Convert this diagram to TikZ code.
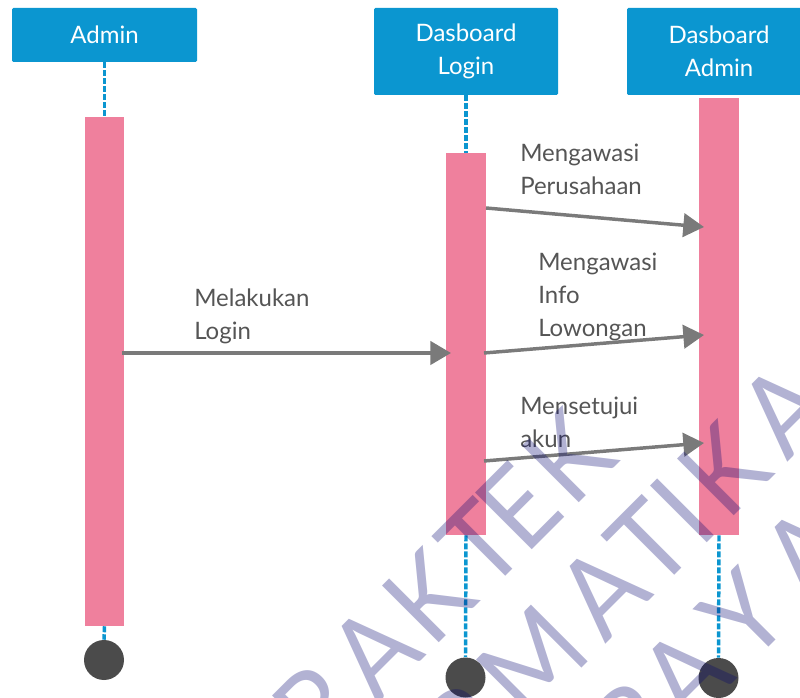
\documentclass[tikz,border=0pt]{standalone}
\usepackage{fontspec}
\usepackage{graphicx}
\setmainfont{Lato}
\usetikzlibrary{arrows.meta}
\definecolor{boxblue}{HTML}{0B96D0}
\definecolor{barpink}{HTML}{EF809D}
\definecolor{arrowgrey}{HTML}{7A7A7A}
\definecolor{labelgrey}{HTML}{555555}
\definecolor{enddark}{HTML}{4B4B4B}
\definecolor{wmnavy}{HTML}{00006E}
\newdimen\wmpx \wmpx=.75pt
\newcommand{\wml}[2]{\makebox[#1\wmpx][l]{\scalebox{.93}[1]{#2}}}
\tikzset{
  actorbox/.style={fill=boxblue,text=white,rounded corners=1pt,inner sep=0pt,align=center,font=\fontsize{18}{24.75}\selectfont},
  lifebar/.style={fill=barpink,minimum width=29.5pt,inner sep=0pt},
  lifedash/.style={draw=boxblue,line width=2.6pt,dash pattern=on 4.5pt off 1.5pt},
  endcircle/.style={circle,fill=enddark,minimum size=30pt,inner sep=0pt},
  message/.style={draw=arrowgrey,line width=2.6pt,-{Triangle[length=15.5pt,width=17.5pt]}},
  msglabel/.style={anchor=north west,text=labelgrey,inner sep=0pt,align=left,font=\fontsize{18}{24.75}\selectfont},
  watermark/.style={rotate=45,anchor=base west,text=wmnavy,text opacity=.3,inner sep=0pt,font=\fontsize{84}{84}\selectfont}
}
\begin{document}
\begin{tikzpicture}[x=0.75pt,y=-0.75pt]
\useasboundingbox (0,0) rectangle (800,698);
\clip (0,0) rectangle (800,698);
\node[actorbox,minimum width=138.75pt,minimum height=40.5pt] (admin) at (104.5,35) {\raisebox{-1pt}{Admin}};
\node[actorbox,minimum width=138pt,minimum height=65.25pt] (login) at (466,51.5) {Dasboard\\Login};
\node[actorbox,minimum width=138pt,minimum height=65.25pt] (dash) at (719,51.5) {Dasboard\\Admin};
\node[lifebar,minimum height=381.75pt] (baradmin) at (104.5,371.5) {};
\node[lifebar,minimum height=286.5pt] (barlogin) at (466,344) {};
\node[lifebar,minimum height=327.75pt] (bardash) at (719,316.5) {};
\node[endcircle] (endadmin) at (104,660) {};
\node[endcircle] (endlogin) at (465.5,677.5) {};
\node[endcircle] (enddash) at (718.5,678) {};
\draw[lifedash] (admin.south -| baradmin.north) -- (baradmin.north);
\draw[lifedash] (baradmin.south) -- (endadmin.north);
\draw[lifedash] (login.south -| barlogin.north) -- (barlogin.north);
\draw[lifedash] (barlogin.south) -- (endlogin.north);
\draw[lifedash] (bardash.south) -- (enddash.north);
\coordinate (m1a) at (122,353); \coordinate (m1b) at (451,353);
\coordinate (m2a) at (486,208); \coordinate (m2b) at (704,227);
\coordinate (m3a) at (484,353); \coordinate (m3b) at (704,335);
\coordinate (m4a) at (484,461); \coordinate (m4b) at (704,443);
\draw[message] (m1a) -- (m1b);
\draw[message] (m2a) -- (m2b);
\draw[message] (m3a) -- (m3b);
\draw[message] (m4a) -- (m4b);
\node[msglabel] (l1) at (194,289) {Melakukan\\Login};
\node[msglabel] (l2) at (520,144) {Mengawasi\\Perusahaan};
\node[msglabel] (l3) at (538,253) {Mengawasi\\Info\\Lowongan};
\node[msglabel] (l4) at (520,397) {Mensetujui\\akun};
\node[watermark] (w1) at (272,810) {\wml{71}{P}\wml{78.5}{R}\wml{77}{A}\wml{78}{K}\wml{54}{T}\wml{66.5}{E}\wml{72}{K}};
\node[watermark] (w2) at (262,988) {\wml{42}{I}\wml{92}{N}\wml{71}{F}\wml{90.5}{O}\wml{78}{R}\wml{112}{M}\wml{72}{A}\wml{62}{T}\wml{38}{I}\wml{86}{K}\wml{75}{A}};
\node[watermark] (w3) at (425,991) {\wml{71}{S}\wml{75}{U}\wml{78}{R}\wml{78}{A}\wml{71}{B}\wml{86}{A}\wml{86}{Y}\wml{75}{A}};
\end{tikzpicture}
\end{document}
